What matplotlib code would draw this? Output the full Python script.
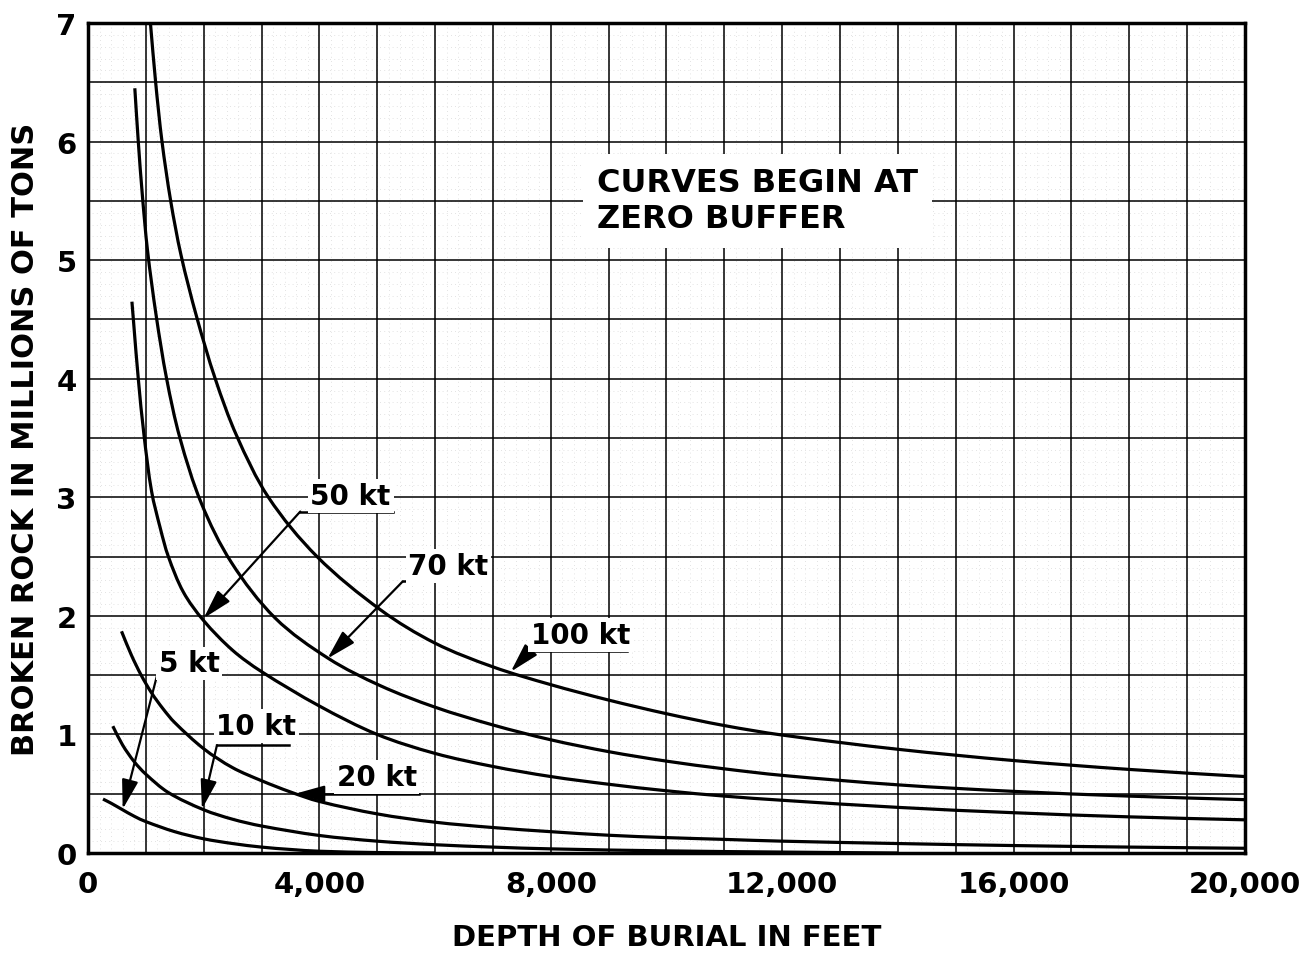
import numpy as np
import matplotlib
matplotlib.use("Agg")
import matplotlib.pyplot as plt
from matplotlib.path import Path
from matplotlib.patches import PathPatch
from matplotlib.ticker import MultipleLocator

# Curves: depth of burial (ft) vs broken rock (millions of tons)
depth_100kt = [1080, 1170, 1280, 1430, 1610, 1880, 2200, 2570, 3120, 3960, 5060,
               6000, 7000, 8000, 9000, 10000, 11000, 12000, 14000, 16000, 18000, 20000]
rock_100kt = [7.0, 6.5, 6.0, 5.5, 5.04, 4.52, 4.0, 3.52, 3.0, 2.5, 2.05,
              1.77, 1.57, 1.42, 1.29, 1.175, 1.075, 0.995, 0.875, 0.78, 0.705, 0.645]

depth_70kt = [810, 870, 940, 1030, 1180, 1360, 1590, 1960, 2480, 3240, 4160, 5060,
              6000, 7000, 8000, 9000, 10000, 11000, 12000, 14000, 16000, 18000, 20000]
rock_70kt = [6.45, 6.0, 5.55, 5.08, 4.53, 4.0, 3.5, 2.95, 2.45, 1.98, 1.64, 1.41,
             1.23, 1.08, 0.955, 0.855, 0.775, 0.71, 0.655, 0.575, 0.52, 0.48, 0.45]

depth_50kt = [760, 790, 870, 970, 1100, 1250, 1390, 1650, 2000, 2500, 3000, 4000,
              5000, 6000, 7000, 8000, 9000, 10000, 11000, 12000, 14000, 16000, 18000, 20000]
rock_50kt = [4.65, 4.47, 4.0, 3.52, 3.05, 2.74, 2.5, 2.2, 1.96, 1.71, 1.53, 1.24,
             1.0, 0.84, 0.73, 0.645, 0.58, 0.525, 0.48, 0.445, 0.385, 0.34, 0.305, 0.28]

depth_20kt = [580, 750, 920, 1100, 1300, 1500, 2000, 2500, 3000, 3500, 4000, 5000,
              6000, 7000, 8000, 9000, 10000, 11000, 12000, 14000, 16000, 18000, 20000]
rock_20kt = [1.87, 1.67, 1.50, 1.35, 1.215, 1.10, 0.88, 0.72, 0.61, 0.515, 0.435, 0.33,
             0.26, 0.215, 0.18, 0.15, 0.13, 0.115, 0.10, 0.08, 0.063, 0.05, 0.04]

depth_10kt = [430, 600, 800, 1000, 1390, 2000, 2500, 3000, 4000, 5000, 6000, 7000,
              8000, 10000, 12000, 14000]
rock_10kt = [1.07, 0.91, 0.77, 0.665, 0.51, 0.365, 0.285, 0.228, 0.148, 0.10, 0.07, 0.05,
             0.035, 0.018, 0.008, 0.0]

depth_5kt = [260, 400, 580, 800, 1000, 1500, 2000, 2500, 3000, 3500, 4000, 5000, 6000]
rock_5kt = [0.455, 0.42, 0.37, 0.31, 0.265, 0.18, 0.12, 0.08, 0.05, 0.03, 0.015, 0.004, 0.0]

curves = [(depth_100kt, rock_100kt), (depth_70kt, rock_70kt), (depth_50kt, rock_50kt),
          (depth_20kt, rock_20kt), (depth_10kt, rock_10kt), (depth_5kt, rock_5kt)]

# label text, text centre, underline (x0, x1, y), arrow tip
labels = ["50 kt", "70 kt", "100 kt", "5 kt", "10 kt", "20 kt"]
label_pos = [(4540, 3.01), (6230, 2.42), (8510, 1.84), (1750, 1.60), (2910, 1.07), (4990, 0.64)]
underlines = [(3670, 5270, 2.88), (5440, 6940, 2.29), (7630, 9310, 1.70),
              (1190, 2260, 1.49), (2230, 3470, 0.91), (3900, 5720, 0.50)]
arrow_tips = [(2000, 1.98), (4140, 1.64), (7310, 1.53), (600, 0.37), (1970, 0.37), (3580, 0.50)]

x_ticks = [0, 4000, 8000, 12000, 16000, 20000]
x_ticklabels = ["0", "4,000", "8,000", "12,000", "16,000", "20,000"]
y_ticks = [0, 1, 2, 3, 4, 5, 6, 7]


def smooth_path(xs, ys, sx, sy):
    '''Bezier path through the read points, tangents worked out in screen-ish units.'''
    p = np.column_stack([np.asarray(xs, float) / sx, np.asarray(ys, float) / sy])
    n = len(p)
    tang = np.zeros_like(p)
    for i in range(n):
        d = p[min(i + 1, n - 1)] - p[max(i - 1, 0)]
        tang[i] = d / np.hypot(*d)
    verts = [p[0]]
    codes = [Path.MOVETO]
    for i in range(n - 1):
        seg = np.hypot(*(p[i + 1] - p[i])) / 3.0
        verts += [p[i] + tang[i] * seg, p[i + 1] - tang[i + 1] * seg, p[i + 1]]
        codes += [Path.CURVE4] * 3
    verts = np.array(verts) * [sx, sy]
    return Path(verts, codes)


fig = plt.figure(figsize=(13.05, 9.54), dpi=100)
ax = fig.add_axes([0.0674, 0.1048, 0.8866, 0.870])

ax.set_xlim(0, 20000)
ax.set_ylim(0, 7)

# graph paper grid
ax.xaxis.set_minor_locator(MultipleLocator(200))
ax.yaxis.set_minor_locator(MultipleLocator(0.1))
ax.grid(which="minor", color="0.85", lw=0.6, linestyle=(0, (1, 4)))
ax.set_axisbelow(True)
for gx in range(0, 20001, 1000):
    ax.axvline(gx, color="black", lw=1.1, zorder=1)
for k in range(0, 15):
    ax.axhline(k * 0.5, color="black", lw=1.1, zorder=1)

# 1000 ft and 0.5 Mt map to about 58 and 59 px, so scale to that for the tangents
for c in curves:
    ax.add_patch(PathPatch(smooth_path(c[0], c[1], 1000.0, 0.5), facecolor="none",
                           edgecolor="black", lw=2.3, zorder=3, clip_on=True))

for i in range(len(labels)):
    x0, x1, yl = underlines[i]
    ax.text(label_pos[i][0], label_pos[i][1], labels[i], ha="center", va="center",
            fontsize=20, fontweight="bold", zorder=5,
            bbox=dict(facecolor="white", edgecolor="none", pad=2))
    ax.plot([x0, x1], [yl, yl], color="black", lw=1.8, zorder=4)
    ax.annotate("", xy=arrow_tips[i], xytext=(x0, yl), zorder=4,
                arrowprops=dict(arrowstyle="-|>,head_length=0.9,head_width=0.25",
                                color="black", lw=1.6, mutation_scale=20,
                                shrinkA=0, shrinkB=0))

ax.text(8800, 5.5, "CURVES BEGIN AT\nZERO BUFFER", ha="left", va="center",
        fontsize=23, fontweight="bold", linespacing=1.2, zorder=5,
        bbox=dict(facecolor="white", edgecolor="none", pad=10))

ax.set_xticks(x_ticks)
ax.set_xticklabels(x_ticklabels, fontsize=21, fontweight="bold")
ax.set_yticks(y_ticks)
ax.set_yticklabels([str(v) for v in y_ticks], fontsize=21, fontweight="bold")
ax.tick_params(axis="both", which="both", length=0)
ax.tick_params(axis="x", pad=12)
ax.tick_params(axis="y", pad=8)

for s in ax.spines.values():
    s.set_linewidth(2.5)

ax.set_xlabel("DEPTH OF BURIAL IN FEET", fontsize=21, fontweight="bold", labelpad=18)
ax.set_ylabel("BROKEN ROCK IN MILLIONS OF TONS", fontsize=22, fontweight="bold", labelpad=12)

fig.savefig("out.png", dpi=100)
